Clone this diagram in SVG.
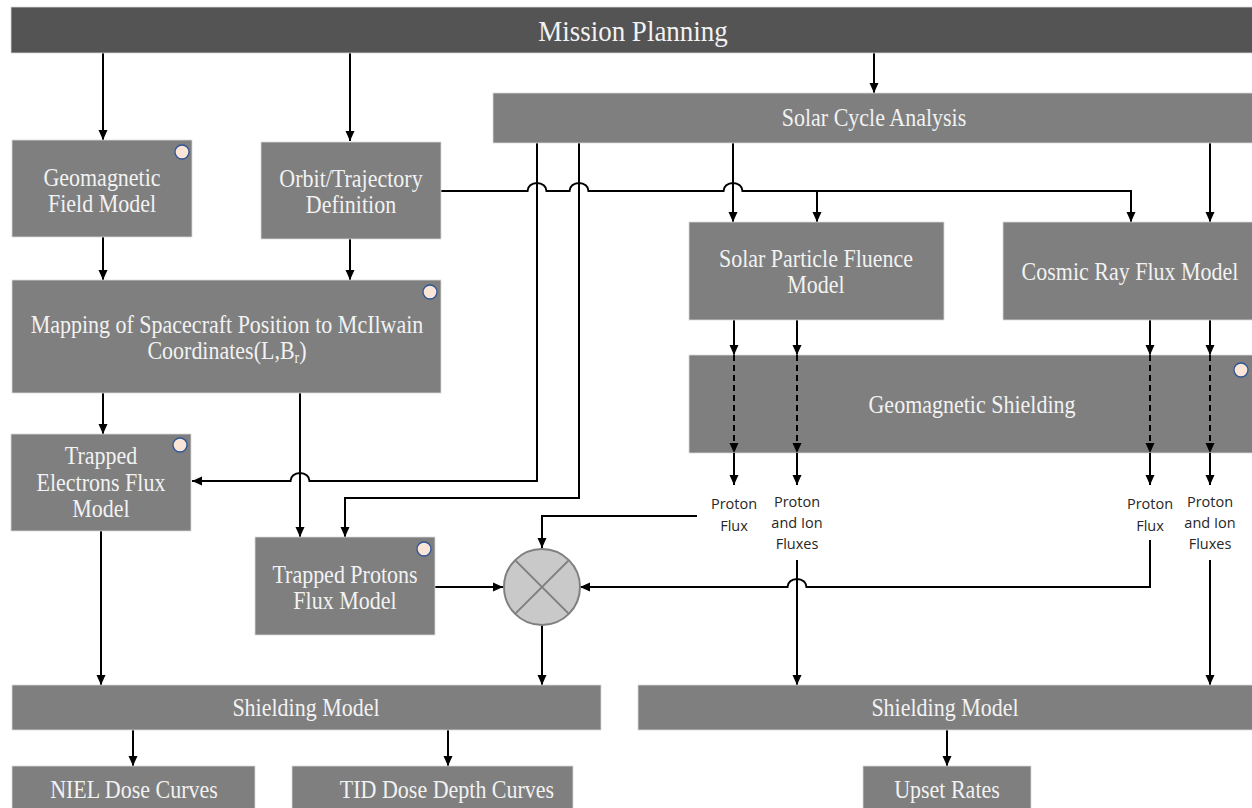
<svg xmlns="http://www.w3.org/2000/svg" width="1252" height="808" viewBox="0 0 1252 808">
  <style>
    .box { fill: #7f7f7f; stroke: #d9d9d9; stroke-width: 0.8; }
    .top { fill: #545454; stroke: #d9d9d9; stroke-width: 0.8; }
    .lbl, .ttl { font-family: "Liberation Serif", "Times New Roman", serif; fill: #f2f2f2; text-anchor: middle;
                 transform-box: fill-box; transform-origin: center; transform: scaleY(1.12); }
    .lbl { font-size: 22px; }
    .ttl { font-size: 27px; }
    .flux { font-family: "Open Sans", "Noto Sans", sans-serif; font-size: 14.5px; fill: #262626; text-anchor: middle; }
    .badge { fill: #fbe5d6; stroke: #2f5597; stroke-width: 1.3; }
    .wire { fill: none; stroke: #000; stroke-width: 2; }
    .dash { fill: none; stroke: #000; stroke-width: 2; stroke-dasharray: 6 4; }
  </style>
  <defs>
    <marker id="arrow" markerUnits="userSpaceOnUse" markerWidth="10" markerHeight="10" viewBox="0 0 10 10" refX="10" refY="5" orient="auto">
      <path d="M0,0.5 L10,5 L0,9.5 Z" fill="#000"/>
    </marker>
  </defs>

  <rect width="1252" height="808" fill="#fff"/>

  <!-- connectors -->
  <g id="connectors">
    <path class="wire" marker-end="url(#arrow)" d="M103,53 V140"/>
    <path class="wire" marker-end="url(#arrow)" d="M350,53 V141"/>
    <path class="wire" marker-end="url(#arrow)" d="M874,53 V93"/>
    <path class="wire" marker-end="url(#arrow)" d="M103,237 V280"/>
    <path class="wire" marker-end="url(#arrow)" d="M350,239 V280"/>
    <!-- orbit feed to the fluence and cosmic ray models, hopping over the solar cycle lines -->
    <path class="wire" marker-end="url(#arrow)" d="M441,191 H527.5 A9.5,8 0 0 1 546.5,191 H569.5 A9.5,8 0 0 1 588.5,191 H723.5 A9.5,8 0 0 1 742.5,191 H1131 V222"/>
    <path class="wire" marker-end="url(#arrow)" d="M817,191 V222"/>
    <path class="wire" marker-end="url(#arrow)" d="M733,143 V222"/>
    <path class="wire" marker-end="url(#arrow)" d="M1210,143 V222"/>
    <path class="wire" marker-end="url(#arrow)" d="M537,143 V481 H309.5 A9.5,8 0 0 0 290.5,481 H192"/>
    <path class="wire" marker-end="url(#arrow)" d="M579,143 V498 H345 V537"/>
    <path class="wire" marker-end="url(#arrow)" d="M103,393 V434"/>
    <path class="wire" marker-end="url(#arrow)" d="M300,393 V537"/>
    <path class="wire" marker-end="url(#arrow)" d="M101,531 V685"/>
    <path class="wire" marker-end="url(#arrow)" d="M435,587 H503"/>
    <path class="wire" marker-end="url(#arrow)" d="M697,516 H542 V548"/>
    <path class="wire" marker-end="url(#arrow)" d="M1150,540 V587 H806.5 A9.5,8 0 0 0 787.5,587 H580"/>
    <path class="wire" marker-end="url(#arrow)" d="M797,560 V685"/>
    <path class="wire" marker-end="url(#arrow)" d="M1210,560 V685"/>
    <path class="wire" marker-end="url(#arrow)" d="M542,625 V685"/>
    <path class="wire" marker-end="url(#arrow)" d="M133,730 V766"/>
    <path class="wire" marker-end="url(#arrow)" d="M448,730 V766"/>
    <path class="wire" marker-end="url(#arrow)" d="M947,730 V766"/>
    <!-- fluxes entering the geomagnetic shielding -->
    <g id="shield-paths">
      <path class="wire" marker-end="url(#arrow)" d="M734,320 V355"/>
      <path class="wire" marker-end="url(#arrow)" d="M797,320 V355"/>
      <path class="wire" marker-end="url(#arrow)" d="M1150,320 V355"/>
      <path class="wire" marker-end="url(#arrow)" d="M1210,320 V355"/>
    </g>
  </g>

  <g id="mission-planning">
    <rect class="top" x="11" y="7" width="1242" height="46"/>
    <text class="ttl" x="633" y="40">Mission Planning</text>
  </g>

  <g id="solar-cycle">
    <rect class="box" x="493" y="93" width="760" height="50"/>
    <text class="lbl" x="874" y="125">Solar Cycle Analysis</text>
  </g>

  <g id="geomagnetic-field">
    <rect class="box" x="12" y="140" width="180" height="97"/>
    <circle class="badge" cx="182" cy="152" r="7"/>
    <text class="lbl" x="102" y="185">Geomagnetic</text>
    <text class="lbl" x="102" y="211">Field Model</text>
  </g>

  <g id="orbit">
    <rect class="box" x="261" y="142" width="180" height="97"/>
    <text class="lbl" x="351" y="186">Orbit/Trajectory</text>
    <text class="lbl" x="351" y="212">Definition</text>
  </g>

  <g id="solar-particle">
    <rect class="box" x="689" y="222" width="255" height="98"/>
    <text class="lbl" x="816" y="266">Solar Particle Fluence</text>
    <text class="lbl" x="816" y="292">Model</text>
  </g>

  <g id="cosmic-ray">
    <rect class="box" x="1003" y="222" width="250" height="98"/>
    <text class="lbl" x="1130" y="279">Cosmic Ray Flux Model</text>
  </g>

  <g id="mapping">
    <rect class="box" x="12" y="280" width="429" height="113"/>
    <circle class="badge" cx="430" cy="292" r="7"/>
    <text class="lbl" x="227" y="332">Mapping of Spacecraft Position to McIlwain</text>
    <text class="lbl" x="227" y="358">Coordinates(L,B<tspan font-size="14" dy="4">r</tspan><tspan dy="-4">)</tspan></text>
  </g>

  <g id="geomagnetic-shielding">
    <rect class="box" x="689" y="355" width="564" height="98"/>
    <circle class="badge" cx="1241" cy="370" r="7"/>
    <text class="lbl" x="972" y="412">Geomagnetic Shielding</text>
  </g>

  <!-- fluxes passing through the shielding and leaving it -->
  <g id="shield-through">
    <path class="dash" marker-end="url(#arrow)" d="M734,355 V453"/>
    <path class="dash" marker-end="url(#arrow)" d="M797,355 V453"/>
    <path class="dash" marker-end="url(#arrow)" d="M1150,355 V453"/>
    <path class="dash" marker-end="url(#arrow)" d="M1210,355 V453"/>
    <path class="wire" marker-end="url(#arrow)" d="M734,453 V485"/>
    <path class="wire" marker-end="url(#arrow)" d="M797,453 V485"/>
    <path class="wire" marker-end="url(#arrow)" d="M1150,453 V485"/>
    <path class="wire" marker-end="url(#arrow)" d="M1210,453 V485"/>
  </g>

  <g id="trapped-electrons">
    <rect class="box" x="11" y="434" width="180" height="97"/>
    <circle class="badge" cx="180" cy="445" r="7"/>
    <text class="lbl" x="101" y="463">Trapped</text>
    <text class="lbl" x="101" y="490">Electrons Flux</text>
    <text class="lbl" x="101" y="516">Model</text>
  </g>

  <g id="trapped-protons">
    <rect class="box" x="255" y="537" width="180" height="98"/>
    <circle class="badge" cx="424" cy="549" r="7"/>
    <text class="lbl" x="345" y="582">Trapped Protons</text>
    <text class="lbl" x="345" y="608">Flux Model</text>
  </g>

  <g id="combiner">
    <circle cx="542" cy="587" r="38" fill="#c9c9c9" stroke="#808080" stroke-width="2"/>
    <path d="M515.1,560.1 L568.9,613.9 M568.9,560.1 L515.1,613.9" stroke="#808080" stroke-width="2"/>
  </g>

  <g id="flux-labels">
    <text class="flux" x="734" y="509">Proton</text>
    <text class="flux" x="734" y="531">Flux</text>
    <text class="flux" x="797" y="507">Proton</text>
    <text class="flux" x="797" y="528">and Ion</text>
    <text class="flux" x="797" y="549">Fluxes</text>
    <text class="flux" x="1150" y="509">Proton</text>
    <text class="flux" x="1150" y="531">Flux</text>
    <text class="flux" x="1210" y="507">Proton</text>
    <text class="flux" x="1210" y="528">and Ion</text>
    <text class="flux" x="1210" y="549">Fluxes</text>
  </g>

  <g id="shielding-left">
    <rect class="box" x="12" y="685" width="589" height="45"/>
    <text class="lbl" x="306" y="715">Shielding Model</text>
  </g>

  <g id="shielding-right">
    <rect class="box" x="638" y="685" width="615" height="45"/>
    <text class="lbl" x="945" y="715">Shielding Model</text>
  </g>

  <g id="niel">
    <rect class="box" x="12" y="766" width="243" height="46"/>
    <text class="lbl" x="134" y="797">NIEL Dose Curves</text>
  </g>

  <g id="tid">
    <rect class="box" x="292" y="766" width="281" height="46"/>
    <text class="lbl" x="447" y="797">TID Dose Depth Curves</text>
  </g>

  <g id="upset">
    <rect class="box" x="863" y="766" width="168" height="46"/>
    <text class="lbl" x="947" y="797">Upset Rates</text>
  </g>
</svg>
